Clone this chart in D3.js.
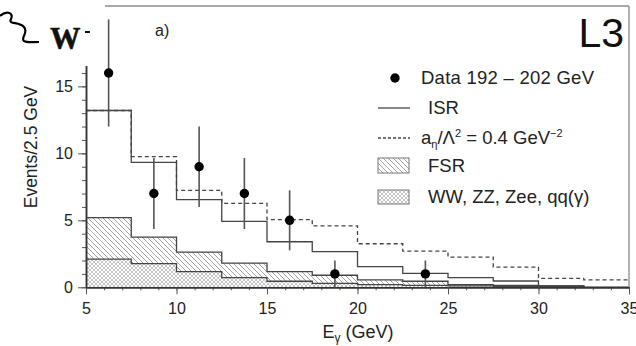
<!DOCTYPE html>
<html>
<head>
<meta charset="utf-8">
<script src="https://cdn.jsdelivr.net/npm/d3@7"></script>
<style>
  body { margin: 0; background: #fff; }
  svg { display: block; font-family: "Liberation Sans", Arial, sans-serif; }
</style>
</head>
<body>
<div id="chart"></div>
<script>
// bin edges of the 2.5 GeV histograms
const binEdges = [5, 7.5, 10, 12.5, 15, 17.5, 20, 22.5, 25, 27.5, 30, 32.5, 35];
// histograms, one value per bin
const isrValues = [13.2, 9.33, 6.54, 4.92, 3.4, 2.66, 1.54, 1.04, 0.72, 0.47, 0.1, 0.0];
const anomValues = [13.2, 9.75, 7.24, 6.27, 5.05, 4.58, 3.25, 2.7, 2.26, 1.51, 0.67, 0.55];
const fsrValues = [5.2, 3.75, 2.63, 1.81, 1.17, 0.9, 0.55, 0.45, 0.2, 0.15, 0.1, 0.0];
const bkgValues = [2.11, 1.76, 1.17, 0.72, 0.45, 0.3, 0.2, 0.15, 0.1, 0.05, 0.05, 0.0];
// data points
const dataE = [6.25, 8.75, 11.25, 13.75, 16.25, 18.75, 23.75];
const dataN = [16, 7, 9, 7, 5, 1, 1];
const dataErr = [4, 2.65, 3, 2.65, 2.24, 1, 1];
// ticks
const xMajor = [5, 10, 15, 20, 25, 30, 35];
const yMajor = [0, 5, 10, 15];
// legend
const legendLabels = ['Data 192 \u2013 202 GeV', 'ISR', 'a', 'FSR', 'WW, ZZ, Zee, qq(\u03b3)'];

const W = 636, H = 346;
const svg = d3.select('#chart').append('svg').attr('width', W).attr('height', H);

const x = d3.scaleLinear().domain([5, 35]).range([86, 629]);
const y = d3.scaleLinear().domain([0, 21]).range([287.3, 6]);

const defs = svg.append('defs');
// single hatch for FSR
const p1 = defs.append('pattern').attr('id', 'hatch').attr('patternUnits', 'userSpaceOnUse')
  .attr('width', 5).attr('height', 5);
p1.append('rect').attr('width', 5).attr('height', 5).attr('fill', '#fff');
p1.append('path').attr('d', 'M-1,-1 L6,6 M-1,4 L1,6 M4,-1 L6,1')
  .attr('stroke', '#999').attr('stroke-width', 0.9);
// cross hatch for backgrounds
const p2 = defs.append('pattern').attr('id', 'cross').attr('patternUnits', 'userSpaceOnUse')
  .attr('width', 4).attr('height', 4);
p2.append('rect').attr('width', 4).attr('height', 4).attr('fill', '#fff');
p2.append('path').attr('d', 'M0,0 L4,4 M4,0 L0,4')
  .attr('stroke', '#aaa').attr('stroke-width', 0.7);

const stepPts = vals => vals.map((v, i) => [binEdges[i], v]).concat([[binEdges[binEdges.length - 1], vals[vals.length - 1]]]);

const area = d3.area().curve(d3.curveStepAfter)
  .x(d => x(d[0])).y0(y(0)).y1(d => y(d[1]));
const line = d3.line().curve(d3.curveStepAfter)
  .x(d => x(d[0])).y(d => y(d[1]));

const lineColor = '#444';

// FSR (stacked on backgrounds)
svg.append('path').datum(stepPts(fsrValues)).attr('d', area).attr('fill', 'url(#hatch)');
svg.append('path').datum(stepPts(bkgValues)).attr('d', area).attr('fill', 'url(#cross)');
svg.append('path').datum(stepPts(fsrValues)).attr('d', line)
  .attr('fill', 'none').attr('stroke', lineColor).attr('stroke-width', 1.3);
svg.append('path').datum(stepPts(bkgValues)).attr('d', line)
  .attr('fill', 'none').attr('stroke', lineColor).attr('stroke-width', 1.3);

// anomalous coupling (dashed)
svg.append('path').datum(stepPts(anomValues)).attr('d', line)
  .attr('fill', 'none').attr('stroke', lineColor).attr('stroke-width', 1.3)
  .attr('stroke-dasharray', '4,3');
// ISR (solid)
svg.append('path').datum(stepPts(isrValues)).attr('d', line)
  .attr('fill', 'none').attr('stroke', lineColor).attr('stroke-width', 1.3);

// frame top / right
svg.append('line').attr('x1', x(5)).attr('x2', x(35)).attr('y1', y(21)).attr('y2', y(21))
  .attr('stroke', '#aaa').attr('stroke-width', 2);
svg.append('line').attr('x1', x(35)).attr('x2', x(35)).attr('y1', y(21)).attr('y2', y(0))
  .attr('stroke', '#999').attr('stroke-width', 1.5);

// x axis
const xAxisG = svg.append('g').attr('transform', `translate(0,${y(0)})`);
xAxisG.call(d3.axisBottom(x).tickValues(d3.range(5, 36)).tickFormat('').tickSize(3).tickSizeOuter(0));
xAxisG.call(g => g.append('g').call(d3.axisBottom(x).tickValues(xMajor).tickSize(7).tickSizeOuter(0)));
xAxisG.selectAll('path.domain').attr('stroke', '#333').attr('stroke-width', 1.5);
xAxisG.selectAll('.tick line').attr('stroke', '#555');
xAxisG.selectAll('.tick text').style('font-size', '16px').attr('fill', '#222')
  .style('font-family', '"Liberation Sans", Arial, sans-serif').attr('dy', '1.05em');

// y axis
const yAxisG = svg.append('g').attr('transform', `translate(${x(5)},0)`);
yAxisG.call(d3.axisLeft(y).tickValues(d3.range(0, 17)).tickFormat('').tickSize(4).tickSizeOuter(0));
yAxisG.call(g => g.append('g').call(d3.axisLeft(y).tickValues(yMajor).tickSize(8).tickSizeOuter(0)));
yAxisG.selectAll('path.domain').attr('stroke', '#333').attr('stroke-width', 1.5);
yAxisG.selectAll('.tick line').attr('stroke', '#555');
yAxisG.selectAll('.tick text').style('font-size', '16px').attr('fill', '#222')
  .style('font-family', '"Liberation Sans", Arial, sans-serif').attr('x', -13);

// data points with error bars
const pts = svg.append('g');
dataE.forEach((e, i) => {
  pts.append('line').attr('x1', x(e)).attr('x2', x(e))
    .attr('y1', y(dataN[i] + dataErr[i])).attr('y2', y(Math.max(0, dataN[i] - dataErr[i])))
    .attr('stroke', '#555').attr('stroke-width', 1.6);
  pts.append('circle').attr('cx', x(e)).attr('cy', y(dataN[i])).attr('r', 4.7).attr('fill', '#000');
});

// axis titles
svg.append('text').attr('transform', 'translate(37,147) rotate(-90)')
  .attr('text-anchor', 'middle').style('font-size', '17.5px').attr('fill', '#222').text('Events/2.5 GeV');
const xt = svg.append('text').attr('x', 358).attr('y', 338).attr('text-anchor', 'middle')
  .style('font-size', '18px').attr('fill', '#222');
xt.append('tspan').text('E');
xt.append('tspan').style('font-size', '12px').attr('dy', 4).text('\u03b3');
xt.append('tspan').attr('dy', -4).text(' (GeV)');

// panel labels
svg.append('text').attr('x', 155).attr('y', 36).style('font-size', '16px').attr('fill', '#222').text('a)');
svg.append('text').attr('x', 624).attr('y', 47).attr('text-anchor', 'end')
  .style('font-size', '41px').attr('fill', '#111').text('L3');

// legend
const lg = svg.append('g');
const rows = [78, 108, 138, 166, 197];
lg.append('circle').attr('cx', 395).attr('cy', rows[0]).attr('r', 4.7).attr('fill', '#000');
lg.append('line').attr('x1', 378).attr('x2', 410).attr('y1', rows[1]).attr('y2', rows[1])
  .attr('stroke', lineColor).attr('stroke-width', 1.3);
lg.append('line').attr('x1', 378).attr('x2', 410).attr('y1', rows[2]).attr('y2', rows[2])
  .attr('stroke', lineColor).attr('stroke-width', 1.3).attr('stroke-dasharray', '3,2');
lg.append('rect').attr('x', 378).attr('y', rows[3] - 8).attr('width', 31).attr('height', 15)
  .attr('fill', 'url(#hatch)').attr('stroke', '#777');
lg.append('rect').attr('x', 378).attr('y', rows[4] - 7).attr('width', 31).attr('height', 14)
  .attr('fill', 'url(#cross)').attr('stroke', '#777');

const lt = (xx, row) => lg.append('text').attr('x', xx).attr('y', row + 6)
  .style('font-size', '18.5px').attr('fill', '#222');
lt(421, rows[0]).text(legendLabels[0]).attr('textLength', 173).attr('lengthAdjust', 'spacing');
lt(428, rows[1]).text(legendLabels[1]);
const at = lt(421, rows[2]);
at.append('tspan').text('a');
at.append('tspan').style('font-size', '11px').attr('dy', 4).text('\u03b7');
at.append('tspan').attr('dy', -4).text('/\u039b');
at.append('tspan').style('font-size', '11px').attr('dy', -7).text('2');
at.append('tspan').attr('dy', 7).text(' = 0.4 GeV');
at.append('tspan').style('font-size', '11px').attr('dy', -7).text('\u22122');
lt(428, rows[3]).text(legendLabels[3]);
lt(428, rows[4]).text(legendLabels[4]);

// pasted W- label in the top-left corner
svg.append('rect').attr('x', 0).attr('y', 0).attr('width', 105).attr('height', 66).attr('fill', '#fff');
svg.append('path')
  .attr('d', 'M0,16 C7,10 14,13 11,19 C8,25 19,21 24,27 C29,33 20,38 24,41 C27,43 32,42 39,42')
  .attr('fill', 'none').attr('stroke', '#000').attr('stroke-width', 2.2);
svg.append('text').attr('transform', 'translate(50,49) scale(0.95,1)')
  .style('font-family', '"Liberation Serif", "DejaVu Serif", serif')
  .style('font-weight', 'bold').style('font-size', '32px').attr('fill', '#111')
  .attr('stroke', '#111').attr('stroke-width', 0.6).text('W');
svg.append('line').attr('x1', 85).attr('x2', 90).attr('y1', 32).attr('y2', 32)
  .attr('stroke', '#111').attr('stroke-width', 2);
</script>
</body>
</html>
